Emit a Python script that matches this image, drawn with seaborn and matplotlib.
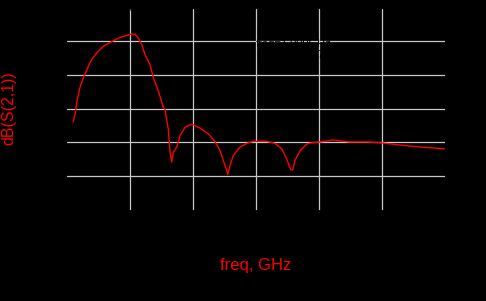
import matplotlib
matplotlib.use("Agg")
import matplotlib.pyplot as plt
import seaborn as sns
import pandas as pd

# Data (freq in GHz, dB(S(2,1)) in dB)
freq = [0.100, 0.127, 0.163, 0.206, 0.259, 0.297, 0.338, 0.392, 0.471, 0.576,
        0.710, 0.841, 0.948, 1.027, 1.079, 1.132, 1.186, 1.238, 1.317, 1.370,
        1.449, 1.529, 1.556, 1.583, 1.608, 1.635, 1.662, 1.687, 1.741, 1.794,
        1.873, 1.952, 2.005, 2.111, 2.243, 2.349, 2.429, 2.481, 2.535, 2.551,
        2.587, 2.640, 2.746, 2.852, 2.957, 3.170, 3.302, 3.408, 3.487, 3.551,
        3.583, 3.619, 3.698, 3.805, 3.857, 4.016, 4.222, 4.492, 4.762, 5.016,
        5.286, 5.556, 5.762, 6.000]
s21_db = [-33.9, -31.7, -27.3, -23.8, -20.9, -19.4, -17.5, -15.5, -13.6, -11.6,
          -10.2, -9.0, -8.4, -8.0, -8.0, -9.2, -11.1, -14.1, -17.0, -20.9,
          -24.8, -29.7, -30.2, -33.6, -36.1, -42.9, -45.8, -42.9, -41.4, -38.0,
          -35.6, -34.8, -34.8, -35.8, -37.5, -39.8, -42.4, -45.4, -48.3, -49.5,
          -46.8, -43.9, -41.4, -40.3, -39.7, -39.7, -40.3, -41.9, -44.9, -48.1,
          -48.1, -45.4, -42.5, -40.5, -40.2, -39.9, -39.3, -39.9, -39.9, -40.2,
          -40.8, -41.3, -41.6, -41.9]
x_ticks = [1, 2, 3, 4, 5]
y_ticks = [-10, -20, -30, -40, -50]

df = pd.DataFrame({"freq": freq, "s21": s21_db})

sns.set_style("dark")
plt.rcParams["font.family"] = ["Liberation Sans", "DejaVu Sans"]

fig = plt.figure(figsize=(4.86, 3.01), dpi=100, facecolor="black")
ax = fig.add_axes([67/486, 1 - 210/301, 378/486, 203/301])
ax.set_facecolor("black")

for xt in x_ticks:
    ax.axvline(xt, ymin=0, ymax=0.99, color="#c8c8c8", lw=0.9, zorder=1)
for yt in y_ticks:
    ax.axhline(yt, color="#c8c8c8", lw=0.9, zorder=1)

sns.lineplot(data=df, x="freq", y="s21", color="red", lw=1.0, ax=ax, zorder=3)

ax.set_xlim(0, 6)
ax.set_ylim(-60, 0)
ax.set_xticks([])
ax.set_yticks([])
for sp in ax.spines.values():
    sp.set_visible(False)
ax.grid(False)

ax.set_xlabel("freq, GHz", color="red", fontsize=12, labelpad=0)
ax.set_ylabel("dB(S(2,1))", color="red", fontsize=11.5, labelpad=0)
ax.xaxis.set_label_coords(0.5, -0.236)
ax.yaxis.set_label_coords(-0.133, 0.5)

# marker annotation (black on black, as in the reference)
ax.text(1.0, 1.2, "m1", color="black", fontsize=8, ha="center", va="top")
ax.text(3.0, -6.0, "m1\nfreq=1.000GHz\ndB(S(2,1))=-7.934", color="black",
        fontsize=8, ha="left", va="top")

fig.savefig("out.png", dpi=100, facecolor="black")
